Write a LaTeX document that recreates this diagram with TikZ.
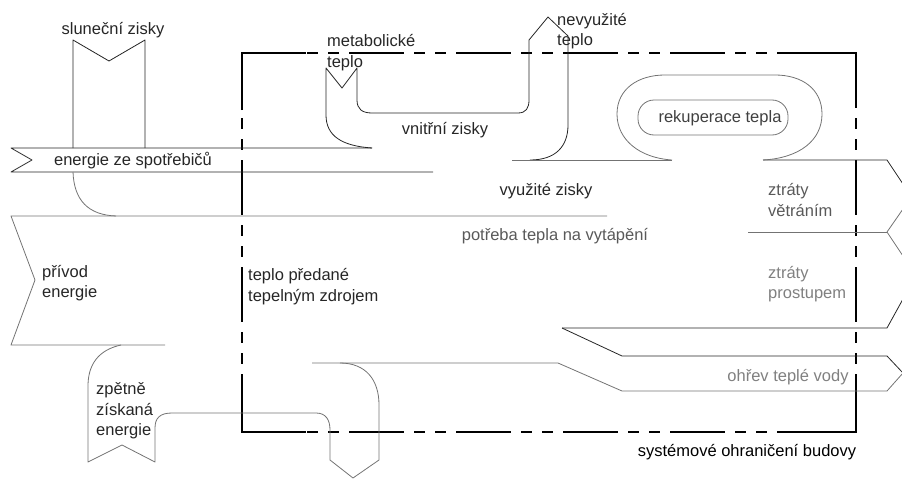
\documentclass[tikz,border=0pt]{standalone}
\usepackage{fontspec}
\setmainfont{Liberation Sans}
\begin{document}
\begin{tikzpicture}[x=1pt,y=-1pt,
  ln/.style={line width=0.8pt, draw=black!85, line join=round},
  lng/.style={line width=0.8pt, draw=black!55, line join=round},
  bnd/.style={line width=1.8pt, draw=black, dash pattern=on 55pt off 10pt on 11pt off 10pt on 11pt off 10pt},
  bndc/.style={line width=1.8pt, draw=black, line join=miter},
  lbl/.style={font=\fontsize{16.5}{20.5}\selectfont, text=black!85, inner sep=0pt},
  lblc/.style={lbl, text height=12pt, text depth=3.5pt},
  lblm/.style={lbl, align=left, anchor=west},
  lgray/.style={text=black!50},
  mgray/.style={text=black!65}]
\useasboundingbox (0,0) rectangle (902,479);
\clip (0,0) rectangle (902,479);
% system boundary
\draw[bnd] (242,53) -- (856,53);
\draw[bnd] (242,53) -- (242,432);
\draw[bnd] (856,53) -- (856,432);
\draw[bnd] (242,432) -- (856,432);
\draw[bndc] (242,110) -- (242,53) -- (306,53);
\draw[bndc] (794,53) -- (856,53) -- (856,108);
\draw[bndc] (856,374) -- (856,432) -- (792,432);
\draw[bndc] (306,432) -- (242,432) -- (242,380);
% solar gains
\draw[ln] (73,148) -- (73,40) -- (109,61) -- (145,40) -- (145,148);
% energy from appliances
\draw[ln] (372,148) -- (11,148) -- (32,160) -- (11,172) -- (433,172);
% solar curve
\draw[lng] (73,172) .. controls (74,200) and (88,215) .. (116,216);
% energy supply
\draw[lng] (607,216) -- (11,216) -- (35,280) -- (11,345) -- (165,345);
% recovered energy and hot-water outlet
\draw[lng] (121,345) .. controls (98,350) and (88,365) .. (88,386) -- (88,462) -- (122,445) -- (155,462) -- (155,428)
  .. controls (155,418) and (160,413) .. (172,413) -- (316,413) .. controls (326,413) and (330,420) .. (330,430)
  -- (330,460) -- (353,478) -- (379,460) -- (379,405) .. controls (379,380) and (366,363) .. (340,363);
\draw[lng] (312,363) -- (558,363) -- (622,391) -- (887,391) -- (903,373);
\draw[ln] (562,328) -- (622,356) -- (887,356) -- (903,373);
% losses
\draw[ln] (562,328) -- (887,328) -- (903,299);
\draw[lng] (748,232) -- (887,232);
\draw[lng] (903,209) -- (887,232) -- (903,256);
\draw[ln] (763,160) -- (887,160) -- (903,184);
% metabolic heat, internal gains, unused heat
\draw[ln] (372,148) .. controls (342,146) and (326,136) .. (326,115) -- (326,68) -- (342,88) -- (357,68) -- (357,100)
  .. controls (357,109) and (362,113) .. (372,113) -- (518,113) .. controls (526,113) and (529,108) .. (529,100)
  -- (529,40) -- (548,17) -- (568,36) -- (568,125) .. controls (568,146) and (556,160) .. (530,160);
\draw[lng] (512,160) -- (672,160);
% heat recovery loop
\draw[lng] (672,160) .. controls (640,158) and (617,140) .. (617,114) .. controls (617,89) and (638,75) .. (665,75)
  -- (775,75) .. controls (802,75) and (822,89) .. (822,114) .. controls (822,140) and (800,158) .. (763,160);
\draw[lng, rounded corners=16pt] (638,100) rectangle (788,135);
% labels
\node[lblc] (sol) at (113,30) {sluneční zisky};
\node[lblc] (spo) at (133,161) {energie ze spotřebičů};
\node[lblm] (met) at (327,52.5) {metabolické\\teplo};
\node[lblm] (nev) at (557,31) {nevyužité\\teplo};
\node[lblc] (vni) at (445,130) {vnitřní zisky};
\node[lblc, text=black!75] (rek) at (720,118) {rekuperace tepla};
\node[lblc] (vyu) at (546,191) {využité zisky};
\node[lblc, mgray] (pot) at (555,236) {potřeba tepla na vytápění};
\node[lblm, mgray] (vet) at (768,200) {ztráty\\větráním};
\node[lblm, lgray] (pro) at (768,284) {ztráty\\prostupem};
\node[lblm] (pri) at (42,283) {přívod\\energie};
\node[lblm] (tep) at (248,286.5) {teplo předané\\tepelným zdrojem};
\node[lblm] (zpe) at (96,411) {zpětně\\získaná\\energie};
\node[lblc, lgray] (ohr) at (788,377) {ohřev teplé vody};
\node[lblc, text=black] (sys) at (747,452) {systémové ohraničení budovy};
\end{tikzpicture}
\end{document}
